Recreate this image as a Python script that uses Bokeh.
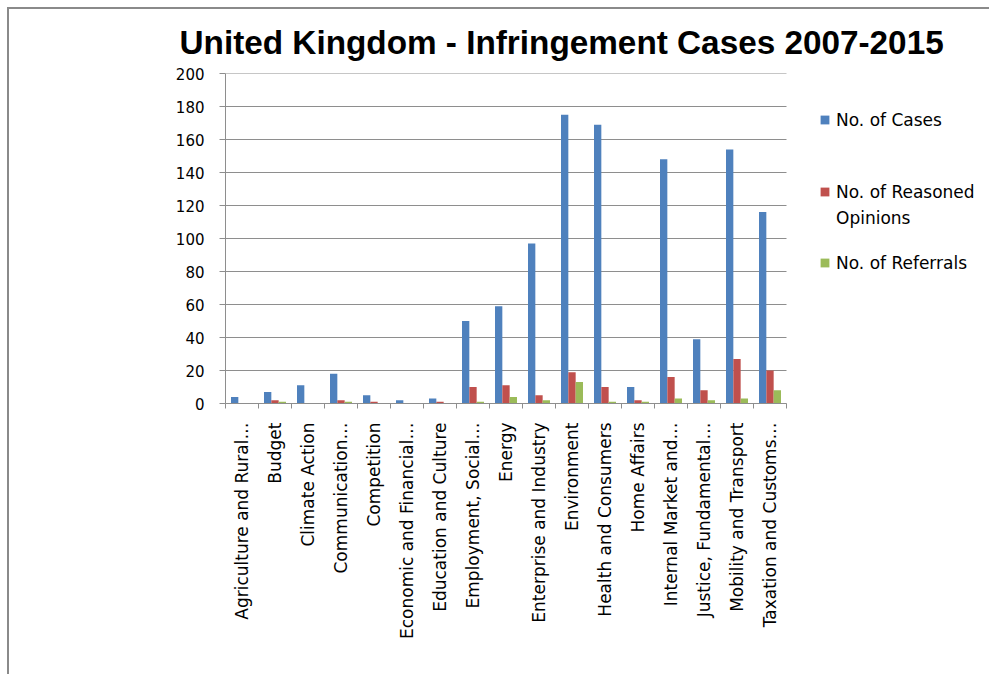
import numpy as np
from bokeh.plotting import figure
from bokeh.models import Range1d, FixedTicker, Legend, LegendItem
from bokeh.embed import file_html
from bokeh.resources import INLINE
from math import pi

categories = [
    "Agriculture and Rural…", "Budget", "Climate Action", "Communication…",
    "Competition", "Economic and Financial…", "Education and Culture",
    "Employment, Social…", "Energy", "Enterprise and Industry", "Environment",
    "Health and Consumers", "Home Affairs", "Internal Market and…",
    "Justice, Fundamental…", "Mobility and Transport", "Taxation and Customs…",
]
cases = [4, 7, 11, 18, 5, 2, 3, 50, 59, 97, 175, 169, 10, 148, 39, 154, 116]
reasoned = [0, 2, 0, 2, 1, 0, 1, 10, 11, 5, 19, 10, 2, 16, 8, 27, 20]
referrals = [0, 1, 0, 1, 0, 0, 0, 1, 4, 2, 13, 1, 1, 3, 2, 3, 8]
y_ticks = [0, 20, 40, 60, 80, 100, 120, 140, 160, 180, 200]
series_names = ["No. of Cases", "No. of Reasoned", "No. of Referrals"]
legend_extra_line = "Opinions"
series_colors = ["#4F81BD", "#C0504D", "#9BBB59"]
title_text = "United Kingdom - Infringement Cases 2007-2015"

n = len(categories)
pos = np.arange(1, n + 1)
bw = 1 / 4.5

# layout: the category area is 561 px wide; the frame continues to the right
# so that the legend (drawn inside the frame) is not clipped
cat_px = 561
frame_w = 764
x_start = 0.5
x_end = x_start + n * frame_w / cat_px

p = figure(
    frame_width=frame_w, frame_height=330,
    x_range=Range1d(x_start, x_end), y_range=Range1d(y_ticks[0], y_ticks[-1]),
    output_backend="svg", toolbar_location=None,
    min_border_left=216, min_border_right=0, min_border_top=64, min_border_bottom=271,
    title=title_text,
)
p.styles = {
    "border-top": "2px solid #8a8a8a", "border-left": "2px solid #8a8a8a",
    "margin-left": "7px", "margin-top": "7px",
}
p.outline_line_color = None
p.background_fill_color = "white"
p.border_fill_color = "white"

p.title.text_font = "Liberation Sans"
p.title.text_font_size = "33.3px"
p.title.text_font_style = "bold"
p.title.text_color = "black"
p.title.align = "left"
p.title.offset = -46
p.title.standoff = 25

grid_color = "#8e8e8e"

# x axis
p.xaxis.bounds = (x_start, n + 0.5)
p.xaxis.ticker = FixedTicker(ticks=[int(v) for v in pos], minor_ticks=list(np.arange(0.5, n + 1, 1.0)))
p.xaxis.major_label_overrides = {int(i): c for i, c in zip(pos, categories)}
p.xaxis.major_label_orientation = pi / 2
p.xaxis.major_label_text_font = "DejaVu Sans"
p.xaxis.major_label_text_font_size = "17px"
p.xaxis.major_label_text_color = "black"
p.xaxis.major_tick_line_color = None
p.xaxis.major_tick_out = 0
p.xaxis.major_tick_in = 0
p.xaxis.minor_tick_out = 5
p.xaxis.minor_tick_in = 0
p.xaxis.minor_tick_line_color = grid_color
p.xaxis.axis_line_color = grid_color
p.xaxis.major_label_standoff = 14
p.xgrid.visible = False

# y axis
p.yaxis.ticker = FixedTicker(ticks=y_ticks)
p.yaxis.major_label_text_font = "DejaVu Sans"
p.yaxis.major_label_text_font_size = "15px"
p.yaxis.major_label_text_color = "black"
p.yaxis.major_tick_out = 6
p.yaxis.major_tick_in = 0
p.yaxis.major_tick_line_color = grid_color
p.yaxis.minor_tick_line_color = None
p.yaxis.axis_line_color = grid_color
p.yaxis.major_label_standoff = 15
p.ygrid.visible = False

# horizontal gridlines limited to the category area
p.segment(x0=x_start, x1=n + 0.5, y0=y_ticks, y1=y_ticks, line_color=grid_color,
          line_width=1, level="underlay")

renderers = []
for k, (vals, col) in enumerate(zip([cases, reasoned, referrals], series_colors)):
    r = p.vbar(x=pos + (k - 1) * bw, top=vals, width=bw, fill_color=col, line_color=None)
    renderers.append(r)


def make_legend(label, renderer, loc, glyph_w=11, standoff=6):
    lg = Legend(items=[LegendItem(label=label, renderers=[renderer])], location=loc)
    lg.border_line_color = None
    lg.background_fill_alpha = 0
    lg.label_text_font = "DejaVu Sans"
    lg.label_text_font_size = "17px"
    lg.label_text_color = "black"
    lg.label_height = 20
    lg.glyph_width = glyph_w
    lg.glyph_height = 11
    lg.label_standoff = standoff
    lg.padding = 0
    lg.margin = 0
    p.add_layout(lg)


# legend positions: px from the frame's bottom-left corner
make_legend(series_names[0], renderers[0], (594, 273.5))
make_legend(series_names[1], renderers[1], (594, 201.5))
make_legend(legend_extra_line, renderers[1], (594, 175.5), glyph_w=0, standoff=17)
make_legend(series_names[2], renderers[2], (594, 130.5))

open("out.html", "w").write(file_html(p, INLINE))
